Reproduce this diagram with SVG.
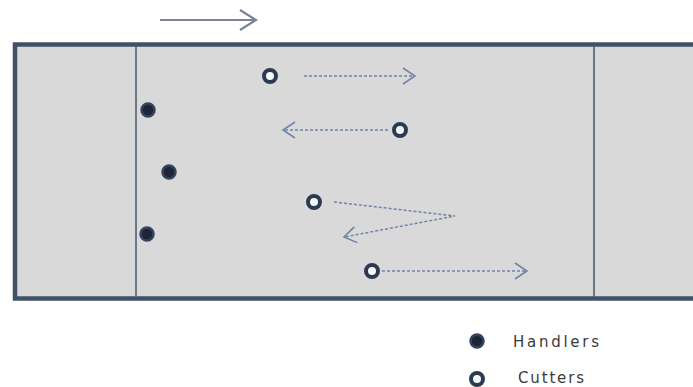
<svg xmlns="http://www.w3.org/2000/svg" width="693" height="387" viewBox="0 0 693 387">
<defs>
<style>
.field{fill:#d9d9d9;stroke:#3f5267;stroke-width:4.5}
.div{stroke:#4e5f72;stroke-width:1.6}
.arr{fill:none;stroke:#7185a6;stroke-width:1.5;stroke-dasharray:3,2}
.solid{fill:none;stroke:#7a8494;stroke-width:2.2}
.handler{fill:#1c2638;stroke:#34445c;stroke-width:2.5}
.cutter{fill:#f4f8fc;stroke:#2b3a50;stroke-width:4}
.lbl{font-family:"DejaVu Sans","Open Sans",sans-serif;font-size:15px;fill:#3a3a3a}
</style>
<marker id="ah" markerWidth="16" markerHeight="20" refX="13" refY="9" orient="auto" markerUnits="userSpaceOnUse">
<path d="M1,1 L13,9 L1,17" fill="none" stroke="#7185a6" stroke-width="1.6"/>
</marker>
<marker id="ahs" markerWidth="20" markerHeight="24" refX="17" refY="11" orient="auto" markerUnits="userSpaceOnUse">
<path d="M1,1 L17,11 L1,21" fill="none" stroke="#7a8494" stroke-width="2.2"/>
</marker>
</defs>
<rect x="0" y="0" width="693" height="387" fill="#ffffff"/>
<g id="field">
<path class="field" d="M700,44.5 H15 V298.5 H700"/>
<line class="div" x1="136" y1="46" x2="136" y2="297"/>
<line class="div" x1="594" y1="46" x2="594" y2="297"/>
</g>
<g id="connectors">
<line class="solid" x1="160" y1="20" x2="256" y2="20" marker-end="url(#ahs)"/>
<line class="arr" x1="304" y1="76" x2="415" y2="76" marker-end="url(#ah)"/>
<line class="arr" x1="388" y1="130" x2="283" y2="130" marker-end="url(#ah)"/>
<polyline class="arr" points="334,202 455,216 344,237" marker-end="url(#ah)"/>
<line class="arr" x1="382" y1="271" x2="527" y2="271" marker-end="url(#ah)"/>
</g>
<g id="handler1"><circle class="handler" cx="148" cy="110" r="6.5"/></g>
<g id="handler2"><circle class="handler" cx="169" cy="172" r="6.5"/></g>
<g id="handler3"><circle class="handler" cx="147" cy="234" r="6.5"/></g>
<g id="cutter1"><circle class="cutter" cx="270" cy="76" r="6"/></g>
<g id="cutter2"><circle class="cutter" cx="400" cy="130" r="6"/></g>
<g id="cutter3"><circle class="cutter" cx="314" cy="202" r="6"/></g>
<g id="cutter4"><circle class="cutter" cx="372" cy="271" r="6"/></g>
<g id="legend">
<circle class="handler" cx="477" cy="341" r="6.5"/>
<text class="lbl" x="513" y="347" textLength="86" lengthAdjust="spacing">Handlers</text>
<circle class="cutter" cx="477" cy="379" r="6"/>
<text class="lbl" x="518" y="383" textLength="66" lengthAdjust="spacing">Cutters</text>
</g>
</svg>
